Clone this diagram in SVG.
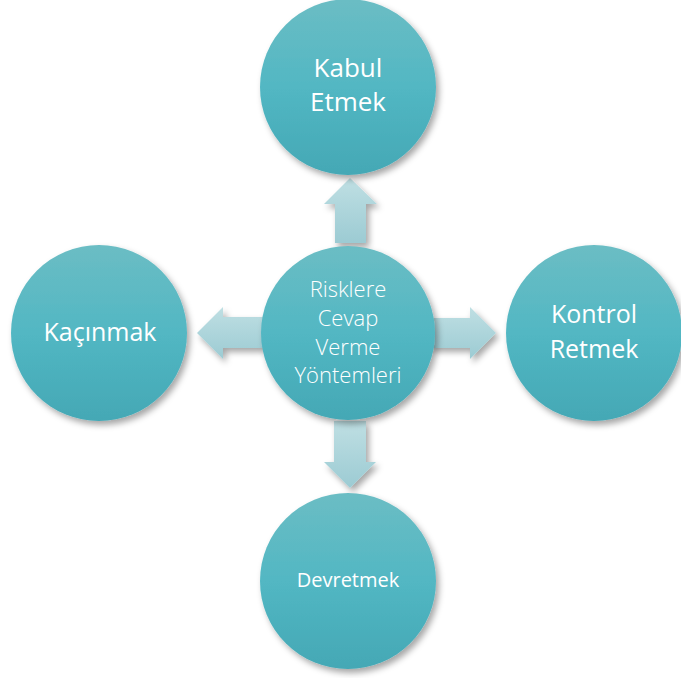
<svg xmlns="http://www.w3.org/2000/svg" width="681" height="678" viewBox="0 0 681 678">
  <defs>
    <linearGradient id="gC" x1="0" y1="0" x2="0" y2="1">
      <stop offset="0" stop-color="#6bbdc4"/>
      <stop offset="0.5" stop-color="#52b7c3"/>
      <stop offset="1" stop-color="#44a8b5"/>
    </linearGradient>
    <linearGradient id="gA" x1="0" y1="0" x2="0" y2="1">
      <stop offset="0" stop-color="#bfdfe3"/>
      <stop offset="1" stop-color="#9ccbd3"/>
    </linearGradient>
    <filter id="sh" x="-20%" y="-20%" width="150%" height="150%">
      <feDropShadow dx="3" dy="4" stdDeviation="3" flood-color="#000" flood-opacity="0.35"/>
    </filter>
    <style>
      .c { fill: url(#gC); filter: url(#sh); }
      .a { fill: url(#gA); filter: url(#sh); }
      .t { fill: #ffffff; font-family: "Open Sans", "Noto Sans", "DejaVu Sans", sans-serif; text-anchor: middle; }
      .l { font-weight: 300; font-size: 22px; }
    </style>
  </defs>
  <rect width="681" height="678" fill="#ffffff"/>
  <g id="connectors">
    <path class="a" d="M335,243 L335,204 L324,204 L350,178 L377,204 L366,204 L366,243 Z"/>
    <path class="a" d="M334,421 L334,462 L324,462 L350,488 L376,462 L366,462 L366,421 Z"/>
    <path class="a" d="M430,318 L470,318 L470,307 L496,333 L470,359 L470,348 L430,348 Z"/>
    <path class="a" d="M263,317 L223,317 L223,307 L197,333 L223,359 L223,348 L263,348 Z"/>
  </g>
  <g id="kabul">
    <circle class="c" cx="348" cy="87" r="88"/>
    <text class="t" x="348" y="77" font-size="26">Kabul</text>
    <text class="t" x="348" y="111" font-size="26">Etmek</text>
  </g>
  <g id="kacinmak">
    <circle class="c" cx="99" cy="333" r="88"/>
    <text class="t" x="100" y="341" font-size="25">Kaçınmak</text>
  </g>
  <g id="kontrol">
    <circle class="c" cx="594" cy="333" r="88"/>
    <text class="t" x="594" y="323" font-size="25">Kontrol</text>
    <text class="t" x="594" y="358" font-size="25">Retmek</text>
  </g>
  <g id="devretmek">
    <circle class="c" cx="348" cy="581" r="88"/>
    <text class="t" x="348" y="587" font-size="20">Devretmek</text>
  </g>
  <g id="center">
    <circle class="c" cx="348" cy="333" r="87"/>
    <text class="t l" x="348" y="297">Risklere</text>
    <text class="t l" x="348" y="326">Cevap</text>
    <text class="t l" x="348" y="355">Verme</text>
    <text class="t l" x="348" y="383">Yöntemleri</text>
  </g>
</svg>
